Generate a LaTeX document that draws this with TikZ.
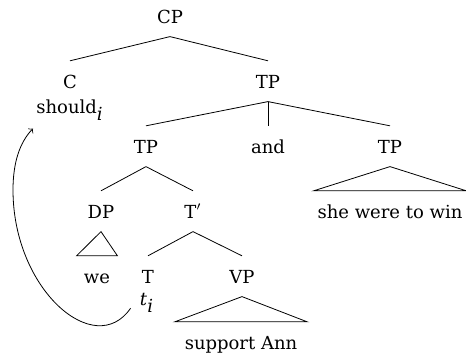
\documentclass[tikz,border=0pt]{standalone}
\usepackage{fontspec}
\setmainfont{DejaVu Serif}
\usepackage{tikz}
\usetikzlibrary{arrows}

\tikzset{lbl/.style={anchor=base, inner xsep=0pt, inner ysep=6.6pt, text height=0.68em, text depth=0pt},
	leaf/.style={lbl, inner xsep=#1},
	leaf/.default=3pt}
\newcommand{\idx}[1]{\textit{#1}$_{\textit{i}}$}

\begin{document}
\begin{tikzpicture}[x=0.5pt,y=-0.5pt,font=\fontsize{9}{11}\selectfont]
\useasboundingbox (0,0) rectangle (466,355);
	\node[lbl] (cp) at (170,23) {CP};
	\node[lbl] (c) at (70,88) {C};
	\node[lbl] (should) at (70,113) {should$_{\textit{i}}$};
	\node[lbl] (tp) at (268,88) {TP};
	\node[lbl] (tpa) at (146,153) {TP};
	\node[lbl] (and) at (268,153) {and};
	\node[lbl] (tpb) at (390,153) {TP};
	\node[leaf=1.75pt] (win) at (390,218) {she were to win};
	\node[lbl] (dp) at (101,218) {DP};
	\node[lbl] (tbar) at (193,218) {T$'$};
	\node[leaf=3.5pt] (we) at (97,283) {we};
	\node[lbl] (t) at (148,283) {T};
	\node[lbl] (ti) at (147,305) {\idx{t}};
	\node[lbl] (vp) at (242,283) {VP};
	\node[leaf=4.75pt] (ann) at (241,349) {support Ann};
	\draw (cp.south) -- (c.north);
	\draw (cp.south) -- (tp.north);
	\draw (tp.south) -- (tpa.north);
	\draw (tp.south) -- (and.north);
	\draw (tp.south) -- (tpb.north);
	\draw (tpb.south) -- (win.north west) -- (win.north east) -- cycle;
	\draw (tpa.south) -- (dp.north);
	\draw (tpa.south) -- (tbar.north);
	\draw (dp.south) -- (we.north west) -- (we.north east) -- cycle;
	\draw (tbar.south) -- (t.north);
	\draw (tbar.south) -- (vp.north);
	\draw (vp.south) -- (ann.north west) -- (ann.north east) -- cycle;
	\draw[->] ([shift={(-9,10)}]ti.west) .. controls (95,360) and (13,290) .. (13,190)
		.. controls (13,162) and (20,142) .. ([shift={(-3,2)}]should.south west);
\end{tikzpicture}
\end{document}
